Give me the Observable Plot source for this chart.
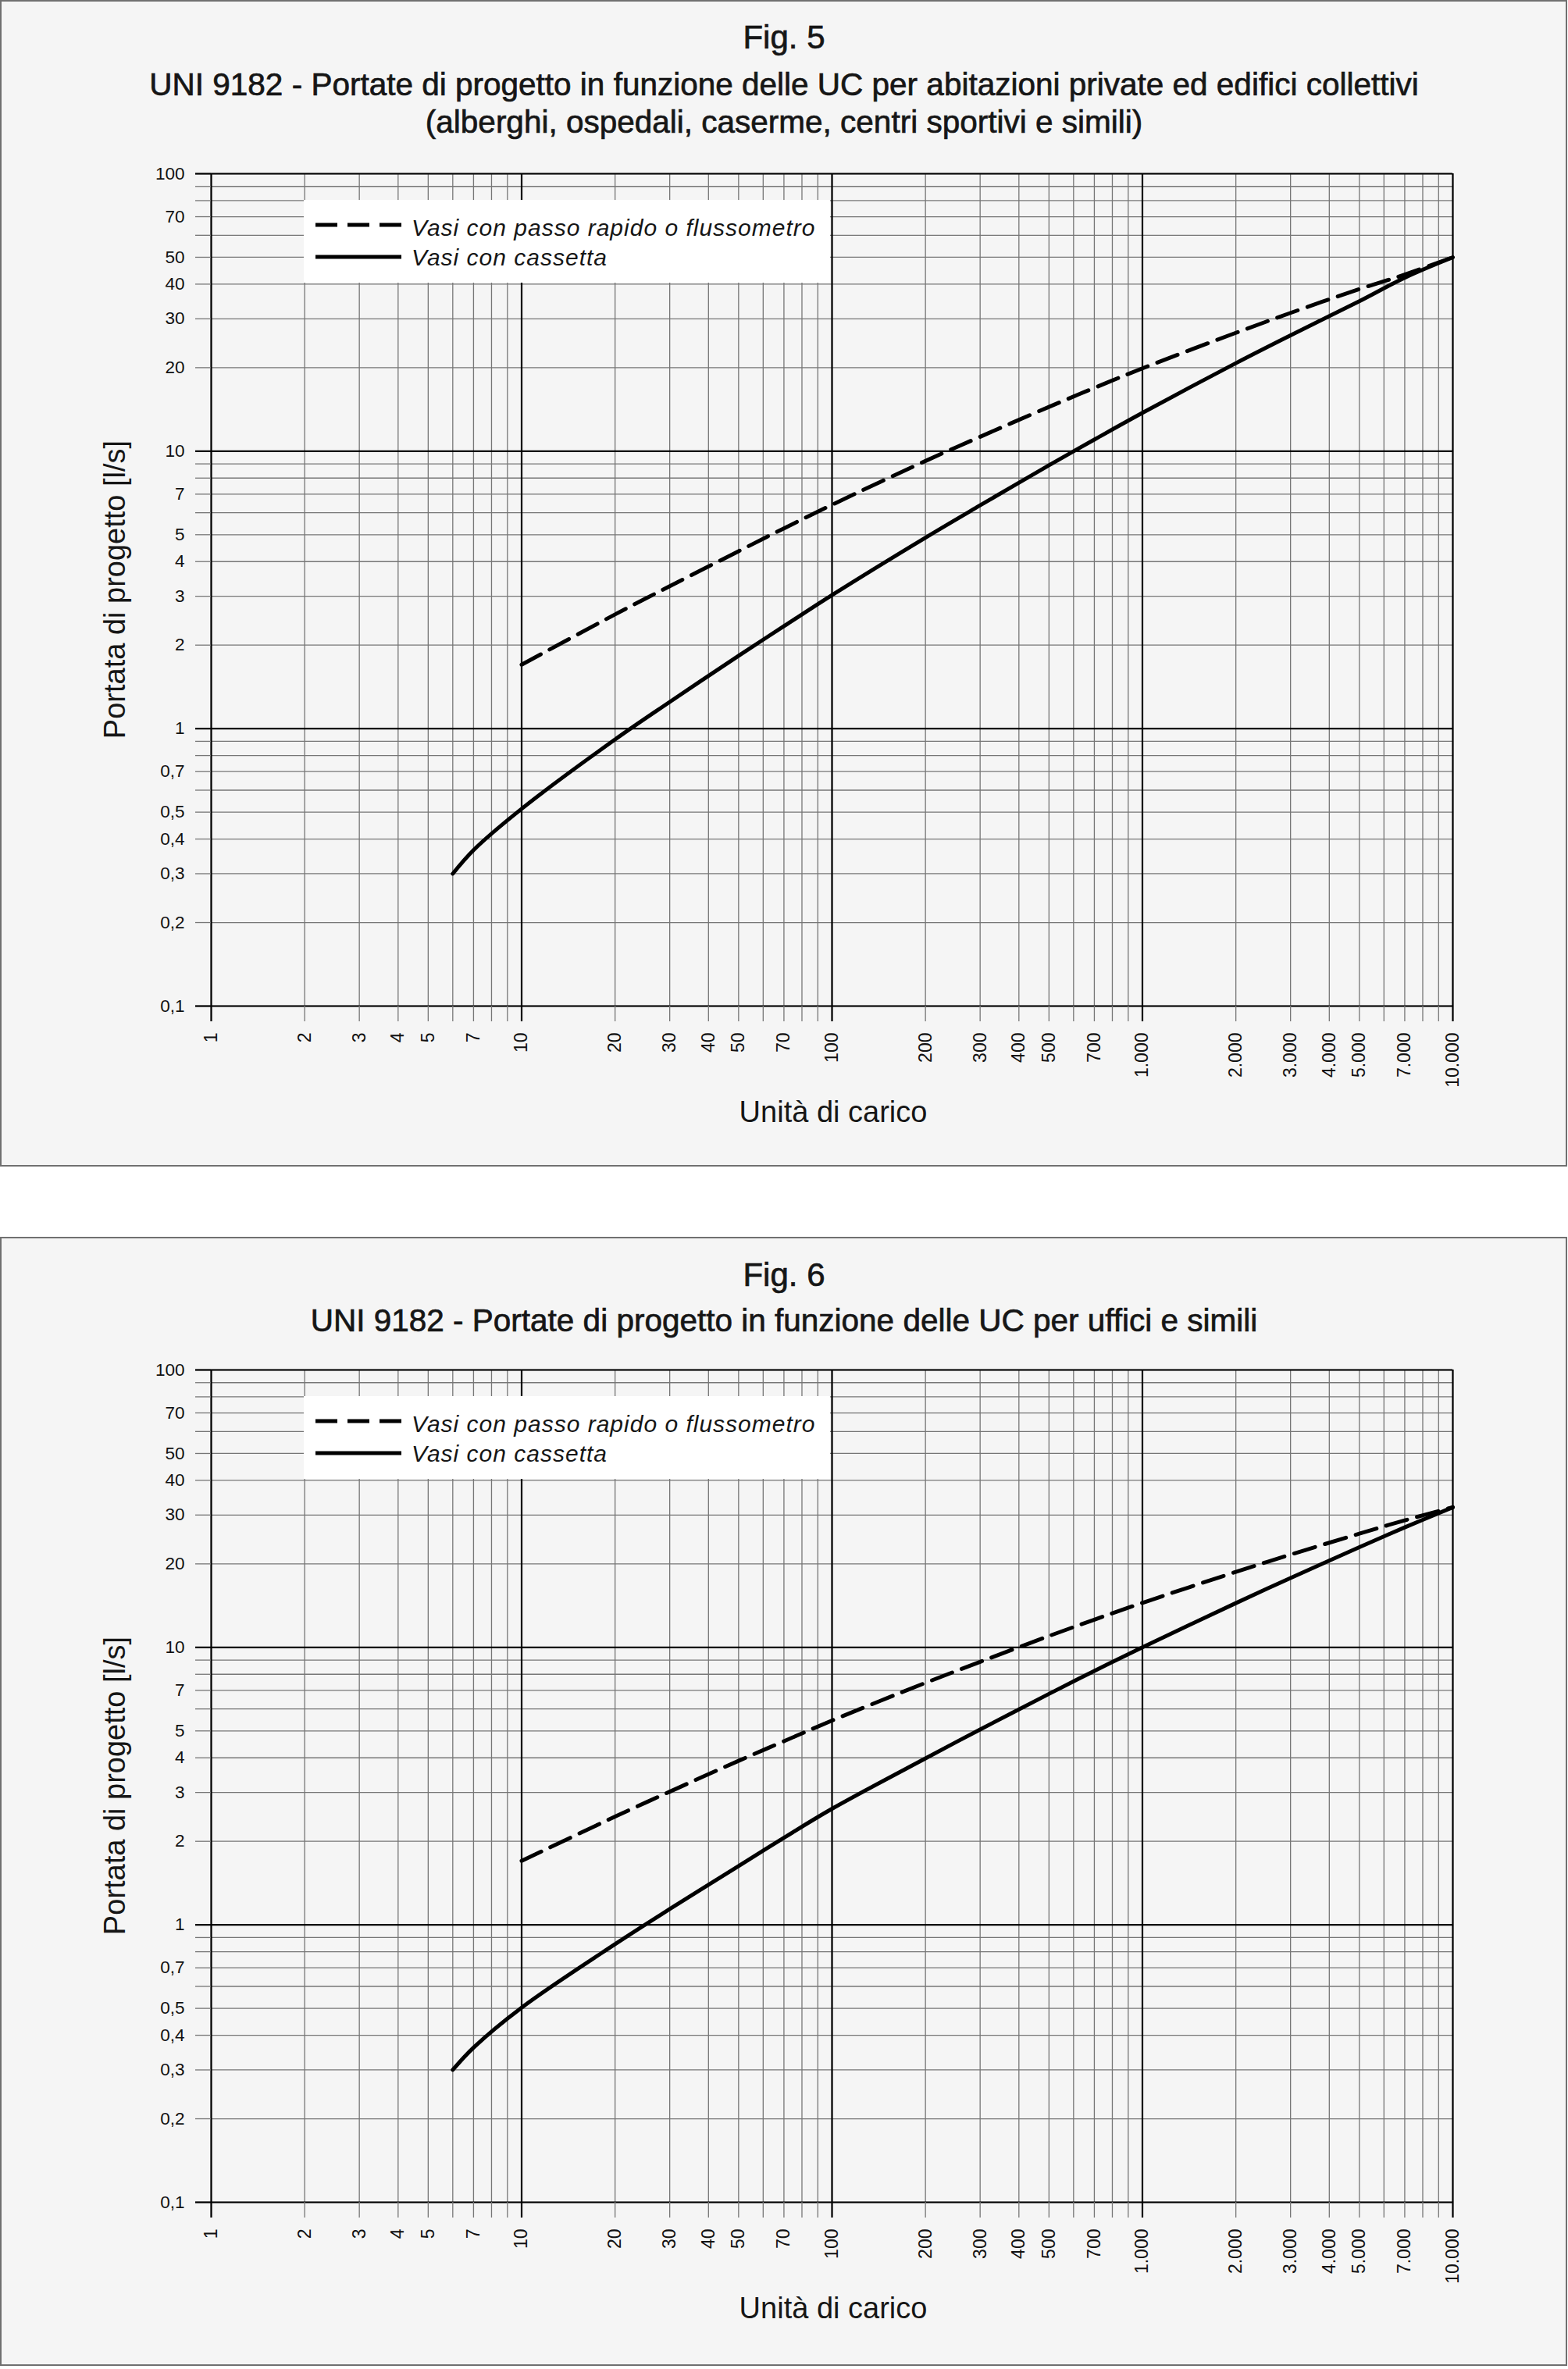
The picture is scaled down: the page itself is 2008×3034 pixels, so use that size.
<!DOCTYPE html>
<html>
<head>
<meta charset="utf-8">
<script src="https://cdn.jsdelivr.net/npm/d3@7"></script>
<script src="https://cdn.jsdelivr.net/npm/@observablehq/plot@0.6"></script>
<style>
  html, body { margin: 0; padding: 0; background: #ffffff; }
  body { width: 2008px; height: 3034px; position: relative; font-family: "Liberation Sans", Arial, sans-serif; }
  .panel { position: absolute; left: 0; width: 2007px; background: #f5f5f5; border: 2px solid #707070; box-sizing: border-box; }
  .plot { position: absolute; left: 0; }
  svg.overlay { position: absolute; left: 0; top: 0; pointer-events: none; }
</style>
</head>
<body>
<div class="panel" style="top:0px;height:1494px"></div>
<div class="panel" style="top:1584px;height:1446px"></div>
<div id="fig5" class="plot" style="top:190px"></div>
<div id="fig6" class="plot" style="top:1722px"></div>
<svg id="overlay" class="overlay" width="2008" height="3034"></svg>
<script>
// ---------- texts ----------
const fig5Title = "Fig. 5";
const fig5Subtitle = ["UNI 9182 - Portate di progetto in funzione delle UC per abitazioni private ed edifici collettivi",
                      "(alberghi, ospedali, caserme, centri sportivi e simili)"];
const fig6Title = "Fig. 6";
const fig6Subtitle = ["UNI 9182 - Portate di progetto in funzione delle UC per uffici e simili"];
const xAxisLabel = "Unità di carico";
const yAxisLabel = "Portata di progetto [l/s]";
const seriesNames = ["Vasi con passo rapido o flussometro", "Vasi con cassetta"];

// ---------- tick labels ----------
const xTickLabels = [1, 2, 3, 4, 5, 7, 10, 20, 30, 40, 50, 70, 100, 200, 300, 400, 500, 700,
                     1000, 2000, 3000, 4000, 5000, 7000, 10000];
const yTickLabels = [0.1, 0.2, 0.3, 0.4, 0.5, 0.7, 1, 2, 3, 4, 5, 7, 10, 20, 30, 40, 50, 70, 100];
const xDecades = [1, 10, 100, 1000, 10000];
const yDecades = [0.1, 1, 10, 100];
const gridSteps = [1, 2, 3, 4, 5, 6, 7, 8, 9];

// ---------- Fig. 5 data (UC -> l/s) ----------
const fig5DashedUC = [10, 20, 30, 50, 70, 100, 200, 300, 500, 700, 1000, 2000, 3000, 5000, 7000, 10000];
const fig5DashedQ  = [1.70, 2.58, 3.26, 4.36, 5.27, 6.41, 9.22, 11.27, 14.44, 16.91, 19.89, 26.7, 31.5, 38.4, 43.3, 50.0];
const fig5SolidUC  = [6, 7, 10, 20, 30, 50, 70, 100, 200, 300, 500, 700, 1000, 2000, 3000, 5000, 7000, 10000];
const fig5SolidQ   = [0.30, 0.365, 0.514, 0.914, 1.248, 1.831, 2.34, 3.03, 4.88, 6.38, 8.90, 11.01, 13.74, 20.76, 26.15, 34.73, 42.2, 50.0];

// ---------- Fig. 6 data (UC -> l/s) ----------
const fig6DashedUC = [10, 20, 30, 50, 70, 100, 200, 300, 500, 700, 1000, 2000, 3000, 5000, 7000, 10000];
const fig6DashedQ  = [1.70, 2.455, 3.02, 3.90, 4.59, 5.45, 7.45, 8.87, 10.99, 12.59, 14.47, 18.71, 21.6, 25.7, 28.7, 32.0];
const fig6SolidUC  = [6, 7, 10, 20, 30, 50, 70, 100, 200, 300, 500, 700, 1000, 2000, 3000, 5000, 7000, 10000];
const fig6SolidQ   = [0.30, 0.361, 0.503, 0.852, 1.14, 1.63, 2.06, 2.62, 3.98, 5.06, 6.80, 8.23, 10.0, 14.44, 17.79, 22.97, 27.08, 32.0];

// ---------- helpers ----------
const FONT = "'Liberation Sans', Arial, Helvetica, sans-serif";
const round = v => +v.toPrecision(6);
const xGrid = xDecades.slice(0, -1).flatMap(d => gridSteps.map(k => round(d * k))).concat([10000]);
const yGrid = yDecades.slice(0, -1).flatMap(d => gridSteps.map(k => round(d * k))).concat([100]);
const yLabelSet = new Set(yTickLabels);
const fmtX = v => d3.format(",")(v).replace(/,/g, ".");
const fmtY = v => yLabelSet.has(v) ? String(v).replace(".", ",") : "";

const MINOR = {stroke: "#767676", strokeOpacity: 1, strokeWidth: 1.3};
const MAJOR = {stroke: "#000000", strokeOpacity: 1, strokeWidth: 2.2};

function chart(dUC, dQ, sUC, sQ) {
  const dashed = dUC.map((x, i) => ({x, y: dQ[i]}));
  const solid = sUC.map((x, i) => ({x, y: sQ[i]}));
  return Plot.plot({
    width: 2000,
    height: 1300,
    marginLeft: 270,
    marginRight: 140,
    marginTop: 32,
    marginBottom: 202,
    style: {fontFamily: FONT, background: "transparent", overflow: "visible", color: "#111"},
    x: {type: "log", domain: [1, 10000]},
    y: {type: "log", domain: [0.1, 100]},
    marks: [
      Plot.gridX(xGrid, MINOR),
      Plot.gridY(yGrid, MINOR),
      Plot.gridX(xDecades, MAJOR),
      Plot.gridY(yDecades, MAJOR),
      Plot.axisX(xGrid, {...MINOR, tickSize: 20, tickFormat: () => "", label: null}),
      Plot.axisX(xDecades, {...MAJOR, tickSize: 20, tickFormat: () => "", label: null}),
      Plot.text(xTickLabels, {x: d => d, text: fmtX, frameAnchor: "bottom", dy: 34, rotate: -90,
                              textAnchor: "end", lineAnchor: "middle", fontSize: 23, fill: "#111"}),
      Plot.axisY(yGrid, {...MINOR, tickSize: 20, tickPadding: 14, tickFormat: fmtY, fontSize: 22.5, label: null}),
      Plot.axisY(yDecades, {...MAJOR, tickSize: 20, tickFormat: () => "", label: null}),
      Plot.line(solid, {x: "x", y: "y", stroke: "#000", strokeWidth: 5, curve: "catmull-rom"}),
      Plot.line(dashed, {x: "x", y: "y", stroke: "#000", strokeWidth: 5, strokeDasharray: "28,13", curve: "catmull-rom"})
    ]
  });
}

document.getElementById("fig5").appendChild(chart(fig5DashedUC, fig5DashedQ, fig5SolidUC, fig5SolidQ));
document.getElementById("fig6").appendChild(chart(fig6DashedUC, fig6DashedQ, fig6SolidUC, fig6SolidQ));

// ---------- overlay: titles, axis labels, legends ----------
const ov = d3.select("#overlay").style("font-family", FONT);
function addText(x, y, s, size, opts = {}) {
  const t = ov.append("text").attr("x", x).attr("y", y).attr("text-anchor", opts.anchor || "middle")
    .attr("font-size", size).attr("fill", "#161616").text(s);
  if (opts.italic) t.attr("font-style", "italic");
  if (opts.rotate) t.attr("transform", `rotate(${opts.rotate} ${x} ${y})`);
  if (opts.spacing) t.attr("letter-spacing", opts.spacing);
  if (opts.heavy) t.attr("stroke", "#161616").attr("stroke-width", opts.heavy);
  return t;
}
function addLegend(top) {
  ov.append("rect").attr("x", 389).attr("y", top).attr("width", 674).attr("height", 106).attr("fill", "#ffffff");
  ov.append("line").attr("x1", 404).attr("x2", 514).attr("y1", top + 32).attr("y2", top + 32)
    .attr("stroke", "#000").attr("stroke-width", 5).attr("stroke-dasharray", "28,13");
  ov.append("line").attr("x1", 404).attr("x2", 514).attr("y1", top + 73).attr("y2", top + 73)
    .attr("stroke", "#000").attr("stroke-width", 5);
  addText(527, top + 46, seriesNames[0], 30, {anchor: "start", italic: true, spacing: 1});
  addText(527, top + 84, seriesNames[1], 30, {anchor: "start", italic: true, spacing: 1});
}

// Fig. 5
addText(1004, 62, fig5Title, 42, {heavy: 0.7});
addText(1004, 122, fig5Subtitle[0], 40.5, {heavy: 0.7});
addText(1004, 170, fig5Subtitle[1], 40.5, {heavy: 0.7});
addText(160, 755, yAxisLabel, 38, {rotate: -90});
addText(1067, 1437, xAxisLabel, 38);
addLegend(256);

// Fig. 6
addText(1004, 1647, fig6Title, 42, {heavy: 0.7});
addText(1004, 1705, fig6Subtitle[0], 40.5, {heavy: 0.7});
addText(160, 2287, yAxisLabel, 38, {rotate: -90});
addText(1067, 2969, xAxisLabel, 38);
addLegend(1788);
</script>
</body>
</html>
